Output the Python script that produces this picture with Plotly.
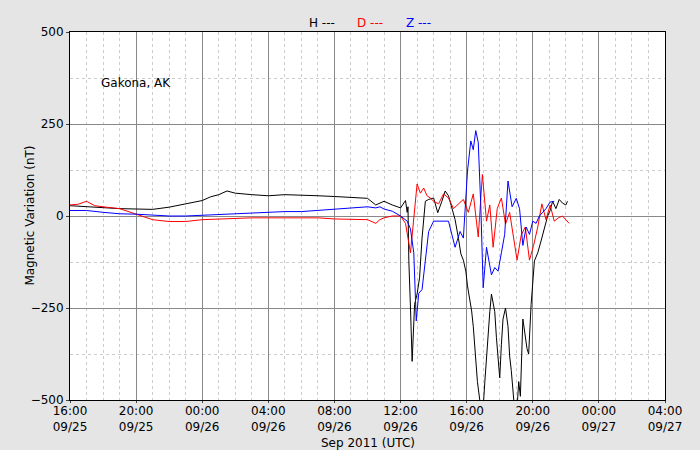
import pandas as pd
import plotly.graph_objects as go

START = pd.Timestamp("2011-09-25 16:00")

# hours after 09/25 16:00, values in nT
h_hours = [0, 1, 2, 3, 4, 5, 6, 7, 8, 8.5, 9, 9.5, 10, 11, 12, 13, 14, 15, 16, 17, 18, 18.5, 18.75, 19,
           19.5, 20, 20.3, 20.4, 20.45, 20.5, 20.6, 20.7, 20.85, 21.0, 21.15, 21.3, 21.5, 21.7, 22.0,
           22.25, 22.5, 22.7, 22.9, 23.1, 23.3, 23.5, 23.65, 23.8, 23.95, 24.05, 24.2, 24.3, 24.4,
           24.55, 24.65, 24.85, 25.0, 25.1, 25.2, 25.3, 25.4, 25.5, 25.6, 25.7, 25.8, 25.9, 26.0,
           26.1, 26.2, 26.35, 26.5, 26.6, 26.7, 26.85, 27.05, 27.15, 27.25, 27.4, 27.55, 27.65, 27.75,
           27.9, 28.1, 28.3, 28.5, 28.7, 28.9, 29.05, 29.2, 29.4, 29.6, 29.8, 30.0, 30.1]
h_vals = [28, 25, 22, 20, 19, 18, 24, 33, 42, 52, 58, 68, 62, 58, 55, 58, 57, 55, 53, 50, 48, 30, 35, 40,
          30, 22, 42, 10, 25, -120, -250, -395, -240, -212, -168, -60, 40, 45, 49, 9, 40, 68, 55, 22,
          -10, -60, -103, -120, -150, -190, -230, -258, -300, -380, -450, -520, -520, -450, -380,
          -304, -260, -212, -240, -260, -330, -380, -440, -350, -280, -250, -300, -380, -420, -500,
          -520, -450, -490, -280, -330, -360, -375, -240, -122, -100, -68, -30, 0, 15, 40, 20, 45, 35,
          30, 40]

d_hours = [0, 0.5, 1, 1.5, 2, 3, 4, 5, 6, 7, 8, 9, 10, 11, 12, 13, 14, 15, 16, 17, 18, 18.5, 18.75,
           19, 19.5, 20, 20.3, 20.6, 20.8, 21.0, 21.2, 21.4, 21.6, 21.8, 22.0, 22.3, 22.6, 22.9, 23.2,
           23.5, 23.8, 24.1, 24.4, 24.7, 24.95, 25.2, 25.4, 25.6, 25.85, 26.1, 26.35, 26.6, 26.85,
           27.05, 27.3, 27.55, 27.8, 28.05, 28.3, 28.55, 28.8, 29.05, 29.3, 29.55, 29.8, 30.05, 30.2]
d_vals = [30, 32, 40, 28, 25, 20, 5, -10, -15, -15, -10, -8, -5, -5, -5, -5, -5, -5, -8, -10, -10,
          -20, -10, -5, 0, 0, -20, -100, -14, 87, 62, 76, 55, 49, 40, 33, 60, 49, 20, 33, 45, 10, 60,
          -57, 113, -14, 30, -85, 20, 49, -22, 10, -60, -120, -52, -30, -120, -80, -30, 33, -10, 30,
          -14, -5, 0, -14, -20]

z_hours = [0, 1, 2, 3, 4, 5, 6, 7, 8, 9, 10, 11, 12, 13, 14, 15, 16, 17, 18, 18.5, 18.75, 19, 19.5,
           20, 20.4, 20.6, 20.8, 20.95, 21.1, 21.3, 21.5, 21.7, 22.0, 22.4, 22.9, 23.3, 23.6, 23.8,
           24.05, 24.25, 24.4, 24.55, 24.7, 24.85, 25.0, 25.2, 25.35, 25.5, 25.7, 25.9, 26.1, 26.3,
           26.5, 26.75, 27.0, 27.2, 27.4, 27.6, 27.8, 28.0, 28.2, 28.4, 28.6, 28.8, 29.05, 29.3]
z_vals = [15, 15, 10, 6, 5, 2, 0, 0, 2, 5, 8, 10, 10, 12, 12, 15, 18, 20, 25, 22, 25, 19, 13, 0, -14,
          -35, -100, -285, -210, -200, -125, -42, -14, -14, -14, -85, -42, -60, 122, 204, 180, 232,
          200, 33, -195, -85, -120, -160, -140, -150, -100, -50, 95, 25, 48, 20, -80, -30, -50, -14,
          -20, 0, 10, 20, 38, 40]


def to_time(hours):
    return [START + pd.Timedelta(hours=h) for h in hours]


fig = go.Figure()
fig.add_trace(go.Scatter(x=to_time(h_hours), y=h_vals, mode="lines", line=dict(color="black", width=1)))
fig.add_trace(go.Scatter(x=to_time(d_hours), y=d_vals, mode="lines", line=dict(color="red", width=1)))
fig.add_trace(go.Scatter(x=to_time(z_hours), y=z_vals, mode="lines", line=dict(color="blue", width=1)))

tick_times = pd.date_range("2011-09-25 16:00", "2011-09-27 04:00", freq="4h")
tick_text = [t.strftime("%H:%M<br>%m/%d") for t in tick_times]

fig.update_layout(
    width=700, height=450,
    paper_bgcolor="#e5e5e5", plot_bgcolor="white",
    margin=dict(l=70, r=35, t=32, b=50, autoexpand=False),
    showlegend=False,
    font=dict(family="DejaVu Sans", size=12, color="black"),
    annotations=[
        dict(text="H ---", x=0.424, y=1.049, xref="paper", yref="paper", showarrow=False,
             font=dict(color="black", size=12)),
        dict(text="D ---", x=0.504, y=1.049, xref="paper", yref="paper", showarrow=False,
             font=dict(color="red", size=12)),
        dict(text="Z ---", x=0.585, y=1.049, xref="paper", yref="paper", showarrow=False,
             font=dict(color="blue", size=12)),
        dict(text="Gakona, AK", x=0.049, y=0.886, xref="paper", yref="paper", showarrow=False,
             xanchor="left", font=dict(size=12)),
        dict(text="Sep 2011 (UTC)", x=0.5, y=-0.117, xref="paper", yref="paper", showarrow=False,
             yanchor="middle", font=dict(size=12)),
        dict(text="Magnetic Variation (nT)", x=-0.083, y=0.5, xref="paper", yref="paper",
             showarrow=False, textangle=-90, font=dict(size=12)),
    ],
)
fig.update_xaxes(
    range=[tick_times[0], tick_times[-1]], tickvals=tick_times, ticktext=tick_text,
    showgrid=True, gridcolor="#888888", gridwidth=1, automargin=False,
    minor=dict(tickmode="linear", tick0=tick_times[0], dtick=3600000, showgrid=True,
               gridcolor="#cccccc", griddash="3px,3px", ticks=""),
    showline=True, linecolor="black", mirror=True, ticks="outside", ticklen=2,
    ticklabelstandoff=-2, zeroline=False,
)
fig.update_yaxes(
    range=[-500, 500], tickvals=[-500, -250, 0, 250, 500],
    ticktext=["\u2212500", "\u2212250", "0", "250", "500"],
    showgrid=True, gridcolor="#888888", gridwidth=1, automargin=False,
    minor=dict(tickmode="linear", tick0=0, dtick=125, showgrid=True,
               gridcolor="#cccccc", griddash="3px,3px", ticks=""),
    showline=True, linecolor="black", mirror=True, ticks="outside", ticklen=3, zeroline=False,
)
fig.write_html("out.html", config={"responsive": False, "displayModeBar": False},
               post_script="document.body.style.margin='0';")
